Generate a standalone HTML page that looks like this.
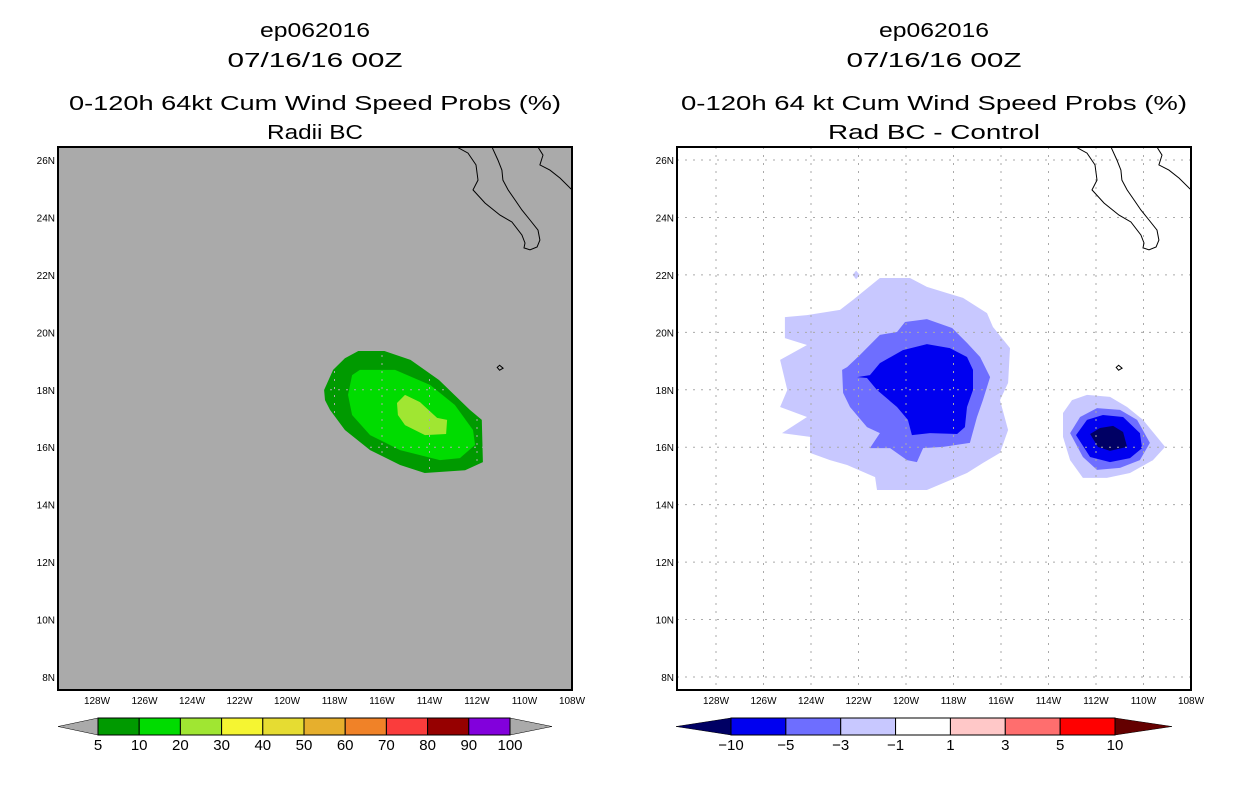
<!DOCTYPE html>
<html><head><meta charset="utf-8"><style>
body{margin:0;background:#fff;width:1236px;height:800px;overflow:hidden;font-family:"Liberation Sans",sans-serif}
svg text{font-family:"Liberation Sans",sans-serif}
</style></head><body>
<svg id="s" width="1236" height="800"></svg>
<script>
const lonTicks=[128,126,124,122,120,118,116,114,112,110,108];
const latTicks=[26,24,22,20,18,16,14,12,10,8];
const leftLevels=["5","10","20","30","40","50","60","70","80","90","100"];
const leftColors=["#009a00","#00dc00","#a0e632","#f5f532","#e6dc32","#e6af2d","#f08228","#fa3c3c","#960000","#8200dc"];
const rightLevels=["−10","−5","−3","−1","1","3","5","10"];
const rightColors=["#0000f0","#6e6eff","#c8c8ff","#ffffff","#ffc8c8","#ff6e6e","#ff0000"];
// contour polygons, [degW, degN]
const probOuter=[[117.0,19.35],[115.9,19.35],[114.8,19.04],[113.6,18.34],[112.3,17.3],[111.8,16.95],[111.75,15.48],[112.5,15.2],[114.2,15.1],[115.24,15.38],[116.5,15.9],[117.56,16.6],[118.19,17.3],[118.4,17.64],[118.44,17.99],[118.06,18.69],[117.56,19.1]];
const probMid=[[116.93,18.69],[115.45,18.69],[113.98,18.17],[112.93,17.47],[112.17,16.6],[112.08,16.08],[112.72,15.62],[113.56,15.55],[115.24,15.9],[116.5,16.42],[117.26,17.12],[117.43,17.82],[117.26,18.51]];
const probInner=[[115.03,17.82],[114.4,17.57],[113.68,17.02],[113.26,16.95],[113.3,16.46],[114.19,16.42],[115.03,16.77],[115.33,17.12],[115.37,17.54]];
const diffLight1=[[125.1,20.53],[124.17,20.6],[122.78,20.78],[122.23,21.13],[121.1,21.89],[119.83,21.89],[119.12,21.58],[118.28,21.37],[117.6,21.2],[116.59,20.67],[116.34,20.19],[115.62,19.45],[115.7,18.24],[116.04,17.64],[115.7,16.6],[116.04,15.8],[116.76,15.45],[117.43,15.1],[119.12,14.51],[120.38,14.51],[121.22,14.51],[121.3,14.96],[122.48,15.38],[123.2,15.55],[124.04,15.8],[124.04,16.36],[125.22,16.49],[124.17,17.05],[125.3,17.4],[125.0,17.99],[125.3,19.04],[124.17,19.56],[125.1,19.8]];
const diffMed1=[[122.69,18.69],[122.48,18.79],[121.94,19.21],[121.1,19.91],[120.38,20.01],[120.04,20.36],[119.12,20.46],[118.06,20.15],[117.43,19.63],[116.88,19.14],[116.46,18.44],[116.76,17.64],[117.01,17.05],[117.31,16.15],[118.44,16.01],[119.28,15.97],[119.54,15.48],[119.96,15.55],[120.67,15.97],[121.52,15.97],[121.1,16.49],[121.64,16.7],[122.36,17.4],[122.65,17.89]];
const diffDark1=[[122.06,18.44],[121.52,18.51],[121.1,18.93],[120.13,19.38],[119.12,19.59],[118.15,19.45],[117.43,19.14],[117.18,18.69],[117.18,17.99],[117.43,17.4],[117.52,16.7],[117.85,16.46],[118.99,16.49],[119.75,16.42],[119.92,16.95],[120.38,17.4],[121.22,17.99],[121.64,18.41]];
const diffLight2=[[113.39,17.19],[113.01,17.64],[112.38,17.82],[111.41,17.75],[110.69,17.4],[110.02,16.95],[109.09,16.01],[109.6,15.55],[110.57,15.1],[111.54,14.93],[112.55,14.93],[113.09,15.55],[113.39,16.36]];
const diffMed2=[[113.09,16.49],[112.67,17.05],[111.96,17.36],[110.99,17.3],[110.27,16.95],[109.73,16.15],[110.15,15.55],[110.99,15.28],[111.96,15.21],[112.55,15.66]];
const diffDark2=[[112.84,16.42],[112.38,16.95],[111.71,17.12],[110.86,17.05],[110.15,16.49],[110.06,15.97],[110.57,15.62],[111.41,15.48],[112.25,15.66]];
const diffNavy2=[[112.25,16.46],[111.83,16.67],[111.28,16.74],[110.86,16.53],[110.69,16.01],[111.41,15.87],[111.92,16.01]];
const diffSpeck=[[122.25,22.0],[122.1,22.15],[121.95,22.0],[122.1,21.85]];
const baja=[[112.84,26.45],[112.38,26.24],[112.04,25.83],[111.96,25.3],[112.17,24.96],[111.66,24.5],[111.03,24.08],[110.53,23.84],[110.11,23.39],[109.98,23.11],[110.02,22.94],[109.77,22.87],[109.47,22.97],[109.35,23.21],[109.43,23.56],[109.77,23.91],[110.11,24.26],[110.4,24.61],[110.69,24.96],[110.91,25.3],[110.95,25.65],[111.12,26.0],[111.37,26.45]];
const mainland=[[109.43,26.45],[109.22,26.17],[109.35,25.83],[108.93,25.65],[108.5,25.37],[108.0,24.96]];
const island=[[111.05,18.85],[110.9,18.75],[111.05,18.68],[111.15,18.78]];

const NS="http://www.w3.org/2000/svg";
const svg=document.getElementById('s');
function mk(tag,attrs,parent){const e=document.createElementNS(NS,tag);for(const k in attrs)e.setAttribute(k,attrs[k]);(parent||svg).appendChild(e);return e;}
function xS(off,w){return off+97+(128-w)*23.75;}
function yS(n){return 160+(26-n)*28.72;}
function pts(off,arr){return arr.map(p=>xS(off,p[0]).toFixed(1)+","+yS(p[1]).toFixed(1)).join(" ");}
function txt(x,y,s,size,anchor,name,len){const t=mk('text',{x:x,y:y,'font-size':size,'text-anchor':anchor||'middle',fill:'#000'});t.textContent=s;
if(len){t.setAttribute('textLength',len);t.setAttribute('lengthAdjust','spacingAndGlyphs');}


return t;}

function panel(off,bg,titles,lens,polys,cname){
  const x0=58+off,x1=572+off;
  const g=mk('g',{});
  
  
  const r=mk('rect',{x:x0,y:147,width:x1-x0,height:543,fill:bg},g);
  
  
  const cp='clip'+off;
  const cl=mk('clipPath',{id:cp},g);mk('rect',{x:x0,y:147,width:x1-x0,height:543},cl);
  const inner=mk('g',{'clip-path':'url(#'+cp+')'},g);
  polys.forEach(p=>{const e=mk('polygon',{points:pts(off,p[0]),fill:p[1]},inner);
    
    });
  lonTicks.forEach(w=>{const l=mk('line',{x1:xS(off,w),x2:xS(off,w),y1:147,y2:690,stroke:'#aaaaaa','stroke-dasharray':'2,6'},inner);
    
    });
  latTicks.forEach(n=>{const l=mk('line',{x1:x0,x2:x1,y1:yS(n),y2:yS(n),stroke:'#aaaaaa','stroke-dasharray':'2,6'},inner);
    
    });
  [baja,mainland].forEach(c=>{const e=mk('polyline',{points:pts(off,c),fill:'none',stroke:'#000','stroke-width':1},inner);
    
    });
  const isl=mk('polygon',{points:pts(off,island),fill:'none',stroke:'#000','stroke-width':1},inner);
  
  
  const b=mk('rect',{x:x0,y:147,width:x1-x0,height:543,fill:'none',stroke:'#000','stroke-width':2},g);
  
  
  lonTicks.forEach(w=>txt(xS(off,w),704,w+'W',10,'middle','lon-tick-label'));
  latTicks.forEach(n=>txt(x0-3,yS(n)+4,n+'N',10,'end','lat-tick-label'));
  const cx=(x0+x1)/2;
  txt(cx,37,titles[0],20,'middle','storm-id-title',lens[0]);
  txt(cx,67,titles[1],20,'middle','date-title',lens[1]);
  txt(cx,110,titles[2],20,'middle','chart-title',lens[2]);
  txt(cx,139,titles[3],20,'middle','chart-subtitle',lens[3]);
}
panel(0,'#aaaaaa',['ep062016','07/16/16 00Z','0-120h 64kt Cum Wind Speed Probs (%)','Radii BC'],[110,175,492,96],
 [[probOuter,leftColors[0],'contour-5-10'],[probMid,leftColors[1],'contour-10-20'],[probInner,leftColors[2],'contour-20-30']],'left-map');
panel(619,'#ffffff',['ep062016','07/16/16 00Z','0-120h 64 kt Cum Wind Speed Probs (%)','Rad BC - Control'],[110,175,506,212],
 [[diffLight1,rightColors[2],'contour-west-light'],[diffMed1,rightColors[1],'contour-west-medium'],[diffDark1,rightColors[0],'contour-west-dark'],
  [diffLight2,rightColors[2],'contour-east-light'],[diffMed2,rightColors[1],'contour-east-medium'],[diffDark2,rightColors[0],'contour-east-dark'],
  [diffNavy2,'#000064','contour-east-navy'],[diffSpeck,rightColors[2],'contour-speck']],'right-map');

function colorbar(x0,x1,tri0,tri1,colors,labels,lc,rc,name){
  const y0=718,y1=735,ym=726.5;
  const w=(x1-x0)/colors.length;
  const a=mk('polygon',{points:`${tri0},${ym} ${x0},${y0} ${x0},${y1}`,fill:lc,stroke:'#000','stroke-width':0.5});
  
  
  const c=mk('polygon',{points:`${tri1},${ym} ${x1},${y0} ${x1},${y1}`,fill:rc,stroke:'#000','stroke-width':0.5});
  
  
  colors.forEach((col,i)=>{const r=mk('rect',{x:x0+i*w,y:y0,width:w,height:y1-y0,fill:col,stroke:'#000','stroke-width':1});
    
    });
  labels.forEach((l,i)=>txt(x0+i*w,750,l,15,'middle',name+'-label'));
}
colorbar(98,510,58,552,leftColors,leftLevels,'#aaaaaa','#aaaaaa','prob-colorbar');
colorbar(731,1115,676,1172,rightColors,rightLevels,'#000064','#640000','diff-colorbar');
</script>
</body></html>
